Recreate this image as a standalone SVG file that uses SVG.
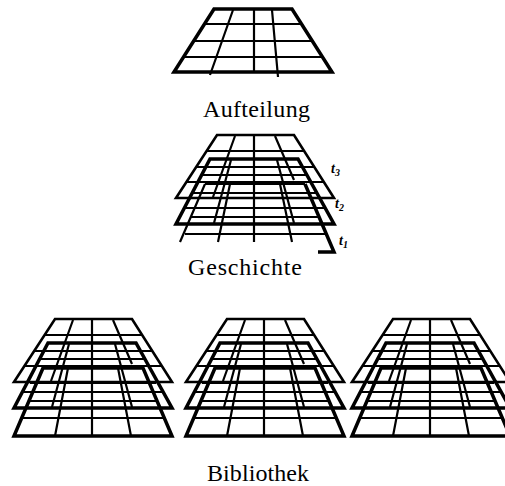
<svg xmlns="http://www.w3.org/2000/svg" width="505" height="486" viewBox="0 0 505 486">
<style>
.o{fill:none;stroke:#000;stroke-width:3.5;stroke-linejoin:miter}
.i{fill:none;stroke:#000;stroke-width:2.2}
.l{font-family:"Liberation Serif","Times New Roman",serif;font-size:24px;fill:#000;text-anchor:middle}
.t{font-family:"Liberation Serif","Times New Roman",serif;font-size:14px;font-style:italic;font-weight:bold;fill:#000}
.s{font-size:10px}
</style>
<defs>
<g id="upper">
<path class="i" d="M206.600 151H304M196 167H314M186.400 182H324M235 136L213 197M275 136L294 180"/>
<path class="o" style="stroke-width:2.6" d="M217 135H294L334 198H176Z"/>
<path class="i" d="M201.600 175H307M185 208H325M231 160L214 223M277 160L294 223"/>
<path class="o" d="M210 159H298L334 224H176Z"/>
</g>
<g id="stack">
<use href="#upper"/>
<path class="i" d="M254 136V252M192 199H318M191 217H320M184.500 234H326M230 184L217 252M280 184L293 252"/>
<path class="o" d="M205 184H305L334 252H176Z"/>
</g>
</defs>
<g id="connectors"/>
<g id="aufteilung">
<path class="i" d="M204.500 24H301.500M194 41H312M183.500 57H322.500M233 10L210 75M254 10V71M272 10L278 77"/>
<path class="o" d="M214 9H292L332 72H174Z"/>
<text class="l" x="256.500" y="117" textLength="107">Aufteilung</text>
</g>
<g id="geschichte">
<use href="#upper"/>
<path class="i" d="M254 136V242M193 193H316M191 217H320M185 234H326M230 184L218 242M280 184L292 242"/>
<path class="i" d="M205 184H305M205 184L180 242"/>
<path class="o" d="M305 184L334 252H318"/>
<text class="t" x="331" y="173">t<tspan class="s" dy="3">3</tspan></text>
<text class="t" x="335" y="208">t<tspan class="s" dy="3">2</tspan></text>
<text class="t" x="339" y="245">t<tspan class="s" dy="3">1</tspan></text>
<text class="l" x="245" y="275" textLength="114">Geschichte</text>
</g>
<g id="bibliothek-1"><use href="#stack" transform="translate(-162 184)"/></g>
<g id="bibliothek-2"><use href="#stack" transform="translate(10 184)"/></g>
<g id="bibliothek-3"><use href="#stack" transform="translate(176 184)"/></g>
<text class="l" x="258" y="480.500" textLength="102">Bibliothek</text>
</svg>
